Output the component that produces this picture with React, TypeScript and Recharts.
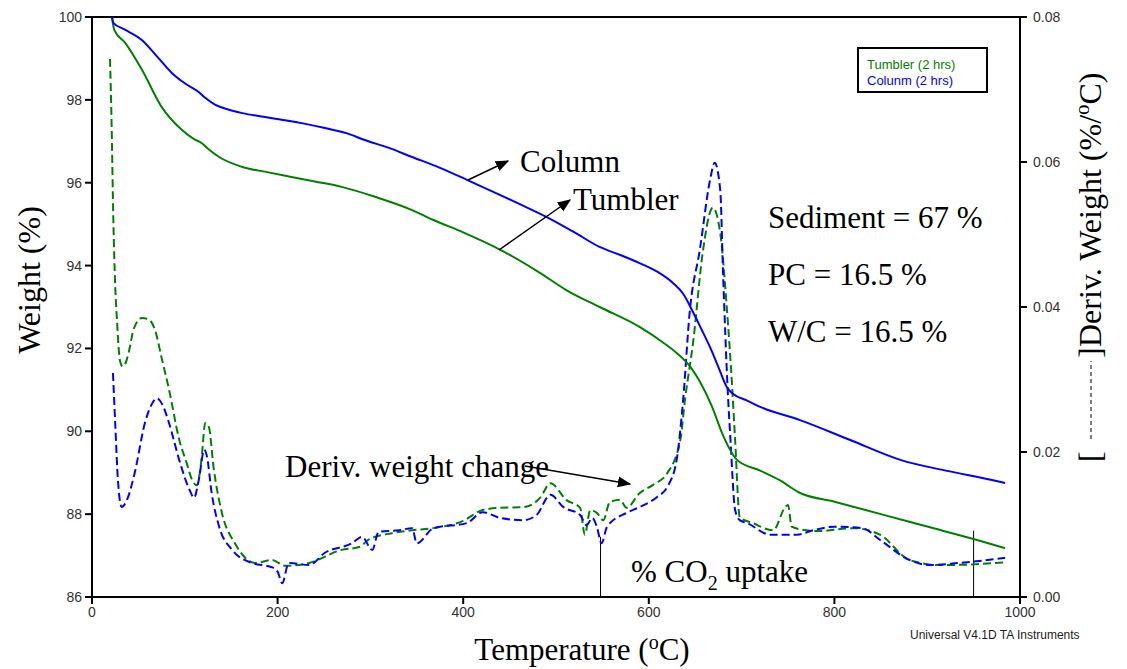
import { ComposedChart, Line, XAxis, YAxis, ReferenceLine } from 'recharts';

// temperature (°C) / weight (%) for each sample
const columnTemp = [21.5, 23, 35, 54, 70, 86, 100, 115, 122, 133, 145, 162, 185, 208, 230, 251, 275, 294, 320, 345, 375, 404, 440, 465, 490, 520, 547, 570, 590, 610, 626, 637, 648, 657, 666, 675, 684, 691, 705, 720, 763, 817, 871, 920, 971, 984];
const columnWeight = [100.0, 99.86, 99.7, 99.44, 99.05, 98.65, 98.4, 98.19, 98.05, 97.88, 97.78, 97.68, 97.59, 97.51, 97.42, 97.32, 97.19, 97.03, 96.84, 96.62, 96.36, 96.07, 95.7, 95.44, 95.17, 94.8, 94.45, 94.25, 94.06, 93.84, 93.58, 93.32, 92.86, 92.45, 92.03, 91.55, 91.07, 90.9, 90.75, 90.59, 90.27, 89.79, 89.31, 89.05, 88.82, 88.75];

const tumblerTemp = [21.5, 24, 36, 54, 75, 97, 110, 118, 125, 137, 162, 190, 215, 240, 269, 305, 345, 368, 400, 440, 483, 511, 547, 590, 615, 630, 645, 655, 668, 680, 695, 720, 741, 763, 800, 850, 900, 950, 984];
const tumblerWeight = [100, 99.69, 99.37, 98.72, 97.83, 97.27, 97.05, 96.96, 96.82, 96.62, 96.38, 96.25, 96.14, 96.03, 95.9, 95.66, 95.34, 95.1, 94.8, 94.38, 93.82, 93.41, 93.0, 92.52, 92.15, 91.89, 91.55, 91.2, 90.6, 89.9, 89.31, 89.05, 88.82, 88.51, 88.3, 88.0, 87.7, 87.4, 87.18];

// derivative weight (%/°C)
const tumblerDerivTemp = [19.4, 21, 23, 25, 27, 30, 33, 36, 40, 45, 54, 62, 68, 75, 83, 94, 102, 108, 113, 118, 122, 126, 131, 140, 154, 176, 194, 208, 234, 269, 288, 298, 323, 345, 368, 400, 421, 440, 465, 483, 494, 511, 526, 531, 537, 544, 551, 558, 569, 576, 590, 605, 620, 634, 639, 648, 658, 669, 677, 684, 690, 693, 698, 712, 734, 747, 750, 754, 770, 784, 820, 849, 881, 914, 950, 984];
const tumblerDeriv = [0.0742, 0.066, 0.052, 0.043, 0.038, 0.0327, 0.0318, 0.0322, 0.034, 0.037, 0.0385, 0.0382, 0.0368, 0.033, 0.0286, 0.0217, 0.0185, 0.0161, 0.0154, 0.019, 0.024, 0.0234, 0.0179, 0.0116, 0.0074, 0.0047, 0.0051, 0.0043, 0.0047, 0.0065, 0.0069, 0.0079, 0.0088, 0.0092, 0.0095, 0.0105, 0.012, 0.0123, 0.0124, 0.0137, 0.0157, 0.0134, 0.0123, 0.0086, 0.012, 0.0116, 0.0106, 0.0131, 0.0134, 0.0123, 0.0143, 0.0155, 0.0171, 0.0217, 0.0272, 0.0354, 0.0474, 0.0537, 0.0502, 0.04, 0.0286, 0.0217, 0.011, 0.0102, 0.0092, 0.0124, 0.0127, 0.0097, 0.0092, 0.0091, 0.0095, 0.0086, 0.0051, 0.0044, 0.0045, 0.0048];

const columnDerivTemp = [22.6, 25, 28, 32, 38, 46, 57, 64, 70, 76, 83, 94, 105, 110, 115, 121, 124, 129, 137, 151, 172, 194, 200, 205, 212, 234, 251, 280, 291, 302, 309, 331, 345, 350, 368, 404, 421, 440, 465, 479, 494, 508, 526, 533, 539, 544, 549, 555, 576, 590, 609, 620, 630, 637, 644, 655, 666, 671, 677, 680, 685, 688, 693, 698, 706, 731, 760, 777, 800, 830, 849, 881, 903, 935, 984];
const columnDeriv = [0.0309, 0.024, 0.016, 0.0124, 0.0135, 0.0171, 0.024, 0.0265, 0.0274, 0.0265, 0.024, 0.0189, 0.0148, 0.0137, 0.0161, 0.0203, 0.0193, 0.0143, 0.0097, 0.0065, 0.0047, 0.0041, 0.0035, 0.0019, 0.0047, 0.0044, 0.0061, 0.0074, 0.0083, 0.0065, 0.009, 0.0092, 0.0095, 0.0074, 0.0095, 0.0102, 0.0117, 0.0109, 0.0106, 0.0113, 0.0141, 0.0124, 0.0113, 0.0099, 0.0109, 0.0097, 0.0074, 0.0097, 0.0116, 0.0124, 0.0138, 0.0152, 0.0189, 0.0272, 0.0392, 0.0479, 0.0575, 0.0599, 0.0561, 0.0447, 0.0286, 0.0217, 0.012, 0.0106, 0.0102, 0.0086, 0.0086, 0.0092, 0.0097, 0.0095, 0.0079, 0.0051, 0.0044, 0.0047, 0.0054];

const tempTicks = [0, 200, 400, 600, 800, 1000];
const weightTicks = [86, 88, 90, 92, 94, 96, 98, 100];
const derivTicks = [0, 0.02, 0.04, 0.06, 0.08];

const GREEN = '#008000';
const BLUE = '#0000ff';
const SERIF = '"Liberation Serif", "Times New Roman", serif';
const SANS = '"Liberation Sans", Arial, sans-serif';
const AXIS = { stroke: '#000', strokeWidth: 2 };
const TICK_TEXT = { fontFamily: SANS, fontSize: 14, fill: '#333' };

const zip = (xs: number[], ys: number[]) => xs.map((t, i) => ({ t, v: ys[i] }));

export default function App() {
  return (
    <div style={{ position: 'absolute', left: 0, top: 0, width: 1127, height: 669, background: '#fff' }}>
      <ComposedChart width={1127} height={669} margin={{ top: 17, right: 106, bottom: 71, left: 91 }}>
        <XAxis
          dataKey="t"
          type="number"
          domain={[0, 1000]}
          ticks={tempTicks}
          interval={0}
          height={1}
          tickSize={7}
          tickMargin={3}
          tickLine={AXIS}
          tick={TICK_TEXT}
          axisLine={AXIS}
          allowDuplicatedCategory={false}
        />
        <YAxis
          yAxisId="left"
          type="number"
          domain={[86, 100]}
          ticks={weightTicks}
          interval={0}
          width={1}
          tickSize={7}
          tickMargin={3}
          tickLine={AXIS}
          tick={TICK_TEXT}
          axisLine={AXIS}
        />
        <YAxis
          yAxisId="right"
          orientation="right"
          type="number"
          domain={[0, 0.08]}
          ticks={derivTicks}
          interval={0}
          width={1}
          tickSize={7}
          tickMargin={6}
          tickLine={AXIS}
          tick={TICK_TEXT}
          tickFormatter={(v: number) => v.toFixed(2)}
          axisLine={AXIS}
        />
        <ReferenceLine yAxisId="left" y={100} stroke="#000" strokeWidth={2} />
        <ReferenceLine
          yAxisId="left"
          segment={[{ x: 548, y: 86 }, { x: 548, y: 87.45 }]}
          stroke="#000"
          strokeWidth={1}
        />
        <ReferenceLine
          yAxisId="left"
          segment={[{ x: 950, y: 86 }, { x: 950, y: 87.6 }]}
          stroke="#000"
          strokeWidth={1}
        />
        <Line
          yAxisId="right"
          data={zip(tumblerDerivTemp, tumblerDeriv)}
          dataKey="v"
          type="monotone"
          stroke={GREEN}
          strokeWidth={2}
          strokeDasharray="8 4"
          dot={false}
          isAnimationActive={false}
        />
        <Line
          yAxisId="right"
          data={zip(columnDerivTemp, columnDeriv)}
          dataKey="v"
          type="monotone"
          stroke={BLUE}
          strokeWidth={2}
          strokeDasharray="8 4"
          dot={false}
          isAnimationActive={false}
        />
        <Line
          yAxisId="left"
          data={zip(tumblerTemp, tumblerWeight)}
          dataKey="v"
          type="monotone"
          stroke={GREEN}
          strokeWidth={2}
          dot={false}
          isAnimationActive={false}
        />
        <Line
          yAxisId="left"
          data={zip(columnTemp, columnWeight)}
          dataKey="v"
          type="monotone"
          stroke={BLUE}
          strokeWidth={2}
          dot={false}
          isAnimationActive={false}
        />
      </ComposedChart>

      <svg
        width={1127}
        height={669}
        style={{ position: 'absolute', left: 0, top: 0, pointerEvents: 'none' }}
      >
        <defs>
          <marker id="arr" viewBox="0 0 10 10" refX="9" refY="5" markerWidth="9" markerHeight="9" orient="auto">
            <path d="M0,1 L10,5 L0,9 z" fill="#000" />
          </marker>
        </defs>

        {/* legend box */}
        <rect x={858} y={48} width={129} height={44} fill="#fff" stroke="#000" strokeWidth={2} />
        <text x={867} y={69} fontFamily={SANS} fontSize={13} fill={GREEN}>Tumbler (2 hrs)</text>
        <text x={867} y={85} fontFamily={SANS} fontSize={13} fill={BLUE}>Colunm (2 hrs)</text>

        {/* curve labels */}
        <line x1={468} y1={180} x2={508} y2={161} stroke="#000" strokeWidth={1.5} markerEnd="url(#arr)" />
        <text x={520} y={172} fontFamily={SERIF} fontSize={31} fill="#000">Column</text>
        <line x1={499} y1={250} x2={570} y2={200} stroke="#000" strokeWidth={1.5} markerEnd="url(#arr)" />
        <text x={573} y={210} fontFamily={SERIF} fontSize={31} fill="#000">Tumbler</text>
        <text x={285} y={477} fontFamily={SERIF} fontSize={31} fill="#000">Deriv. weight change</text>
        <line x1={525} y1={466} x2={630} y2={484} stroke="#000" strokeWidth={1.5} markerEnd="url(#arr)" />

        <text x={768} y={228} fontFamily={SERIF} fontSize={31} fill="#000">Sediment = 67 %</text>
        <text x={768} y={285} fontFamily={SERIF} fontSize={31} fill="#000">PC = 16.5 %</text>
        <text x={768} y={342} fontFamily={SERIF} fontSize={31} fill="#000">W/C = 16.5 %</text>

        <text x={631} y={582} fontFamily={SERIF} fontSize={31} fill="#000">
          % CO<tspan fontSize={20} dy={8}>2</tspan>
          <tspan dy={-8}> uptake</tspan>
        </text>

        {/* axis titles */}
        <text x={582} y={660} textAnchor="middle" fontFamily={SERIF} fontSize={31} fill="#000">
          Temperature (<tspan fontSize={20} dy={-11}>o</tspan>
          <tspan dy={11}>C)</tspan>
        </text>
        <text transform="translate(40, 280) rotate(-90)" textAnchor="middle" fontFamily={SERIF} fontSize={32} fill="#000">
          Weight (%)
        </text>
        <g transform="translate(1101, 347) rotate(-90)">
          <text x={0} y={0} fontFamily={SERIF} fontSize={32} fill="#000">
            Deriv. Weight (%/<tspan fontSize={21} dy={-12}>o</tspan>
            <tspan dy={12}>C)</tspan>
          </text>
          <text x={-115} y={0} fontFamily={SERIF} fontSize={32} fill="#000">[</text>
          <line x1={-92} y1={-10} x2={-14} y2={-10} stroke="#000" strokeWidth={1} strokeDasharray="4 3" />
          <text x={-11} y={0} fontFamily={SERIF} fontSize={32} fill="#000">]</text>
        </g>

        <text x={910} y={639} fontFamily={SANS} fontSize={12} fill="#222">Universal V4.1D TA Instruments</text>
      </svg>
    </div>
  );
}
